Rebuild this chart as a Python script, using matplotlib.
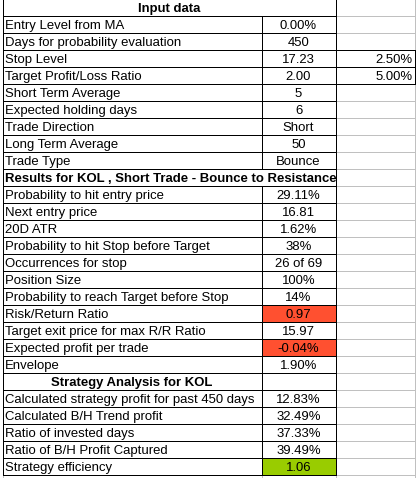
import matplotlib.pyplot as plt
from matplotlib.patches import Rectangle

plt.rcParams['font.family'] = ['Liberation Sans', 'DejaVu Sans']

# sheet contents
input_labels = ["Entry Level from MA", "Days for probability evaluation", "Stop Level",
                "Target Profit/Loss Ratio", "Short Term Average", "Expected holding days",
                "Trade Direction", "Long Term Average", "Trade Type"]
input_values = ["0.00%", "450", "17.23", "2.00", "5", "6", "Short", "50", "Bounce"]
input_side = ["", "", "2.50%", "5.00%", "", "", "", "", ""]

result_title = "Results for KOL , Short Trade - Bounce to Resistance"
result_labels = ["Probability to hit entry price", "Next entry price", "20D ATR",
                 "Probability to hit Stop before Target", "Occurrences for stop", "Position Size",
                 "Probability to reach Target before Stop", "Risk/Return Ratio",
                 "Target exit price for max R/R Ratio", "Expected profit per trade", "Envelope"]
result_values = ["29.11%", "16.81", "1.62%", "38%", "26 of 69", "100%", "14%", "0.97",
                 "15.97", "-0.04%", "1.90%"]

strategy_title = "Strategy Analysis for KOL"
strategy_labels = ["Calculated strategy profit for past 450 days", "Calculated B/H Trend profit",
                   "Ratio of invested days", "Ratio of B/H Profit Captured", "Strategy efficiency"]
strategy_values = ["12.83%", "32.49%", "37.33%", "39.49%", "1.06"]

red_cells = ["Risk/Return Ratio", "Expected profit per trade"]
green_cells = ["Strategy efficiency"]

# build row list: (kind, label, value, side)
rows = [("title_ab", "Input data", "", "")]
for lab, val, side in zip(input_labels, input_values, input_side):
    rows.append(("data", lab, val, side))
rows.append(("title_left", result_title, "", ""))
for lab, val in zip(result_labels, result_values):
    rows.append(("data", lab, val, ""))
rows.append(("title_a", strategy_title, "", ""))
for lab, val in zip(strategy_labels, strategy_values):
    rows.append(("data", lab, val, ""))

W, H = 416, 478
fig = plt.figure(figsize=(W / 100, H / 100), dpi=100)
ax = fig.add_axes([0, 0, 1, 1])
ax.set_xlim(0, W)
ax.set_ylim(H, 0)
ax.axis('off')

xa, xb, xc, xd = 2.5, 261.5, 335.5, 414.5
row_h = 17
y0 = -1.5
black = '#000000'
grey = '#c0c0c0'
fs = 9.45
lw = 0.7


def hline(x1, x2, y, c):
    ax.plot([x1, x2], [y, y], color=c, lw=lw, antialiased=False, solid_capstyle='butt')


def vline(x, y1, y2, c):
    ax.plot([x, x], [y1, y2], color=c, lw=lw, antialiased=False, solid_capstyle='butt')


# grey grid for column C, extending to the bottom
for i in range(len(rows) + 1):
    hline(xc, xd, y0 + i * row_h, grey)
vline(xd, 0, H, grey)
vline(xb, y0 + len(rows) * row_h, H, grey)
vline(xc, y0 + len(rows) * row_h, H, grey)
vline(xa, y0 + len(rows) * row_h, H, grey)

for i, (kind, lab, val, side) in enumerate(rows):
    top = y0 + i * row_h
    bot = top + row_h
    base = bot - 3.3
    if lab in red_cells:
        ax.add_patch(Rectangle((xb, top), xc - xb, row_h, color='#ff5030', lw=0))
    if lab in green_cells:
        ax.add_patch(Rectangle((xb, top), xc - xb, row_h, color='#99cc00', lw=0))
    hline(xa, xc, top, black)
    hline(xa, xc, bot, black)
    vline(xa, top, bot, black)
    vline(xc, top, bot, black)
    if kind in ("data", "title_a"):
        vline(xb, top, bot, black)
    if kind == "title_ab":
        ax.text((xa + xc) / 2, base, lab, ha='center', va='baseline', fontsize=fs, fontweight='bold')
    elif kind == "title_left":
        ax.text(xa + 2.2, base, lab, ha='left', va='baseline', fontsize=fs, fontweight='bold')
    elif kind == "title_a":
        ax.text((xa + xb) / 2, base, lab, ha='center', va='baseline', fontsize=fs, fontweight='bold')
    else:
        ax.text(xa + 2.2, base, lab, ha='left', va='baseline', fontsize=fs)
        ax.text((xb + xc) / 2, base, val, ha='center', va='baseline', fontsize=fs)
    if side:
        hline(xc, xd, top, black)
        hline(xc, xd, bot, black)
        vline(xd, top, bot, black)
        ax.text(xd - 2, base, side, ha='right', va='baseline', fontsize=fs)

fig.savefig('out.png', dpi=100)
